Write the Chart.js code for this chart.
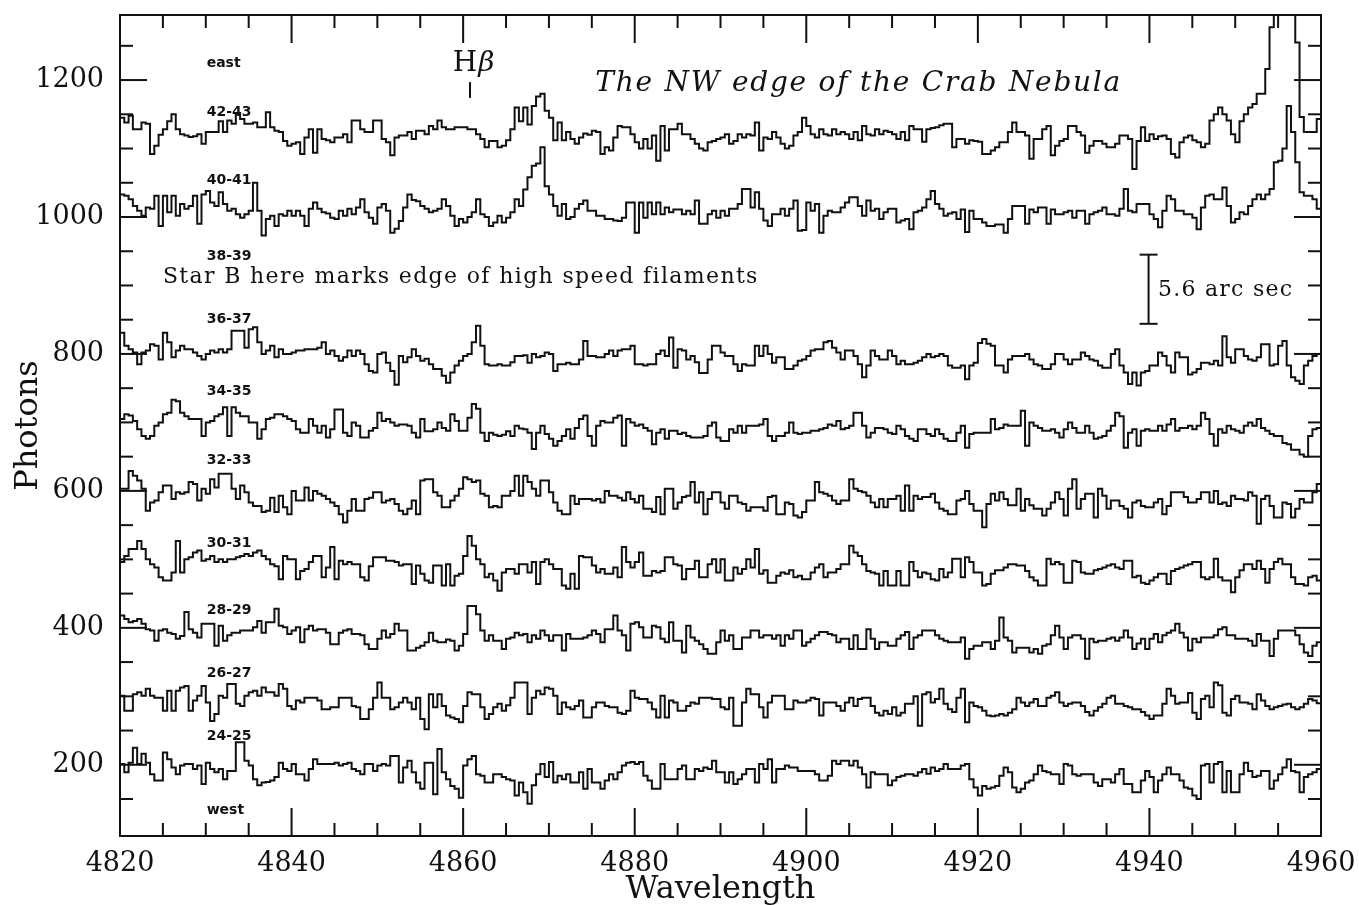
<!DOCTYPE html>
<html>
<head>
<meta charset="utf-8">
<title>The NW edge of the Crab Nebula</title>
<script src="https://cdn.jsdelivr.net/npm/chart.js@4.4.1/dist/chart.umd.min.js"></script>
<style>
  html, body { margin: 0; padding: 0; background: #fff; }
  #wrap { width: 1359px; height: 905px; }
</style>
</head>
<body>
<div id="wrap"><canvas id="crabChart"></canvas></div>
<script>
// wavelength grid of the spectra (Angstrom), one value per bin
const waveStart = 4820;
const binWidth = 0.5;

const waveTicks = [4820, 4840, 4860, 4880, 4900, 4920, 4940, 4960];
const photonTicks = [200, 400, 600, 800, 1000, 1200];

const slitNames = ['42-43', '40-41', '36-37', '34-35', '32-33', '30-31', '28-29', '26-27', '24-25'];

// photons per bin
const slit4243 = [
  1145,1138,1148,1128,1128,1138,1136,1092,1104,1120,1128,1140,1150,1128,1121,1119,1117,1118,1121,1107,
  1124,1124,1124,1140,1124,1141,1136,1150,1143,1136,1136,1138,1131,1131,1153,1131,1126,1124,1111,1104,
  1107,1109,1092,1116,1128,1094,1128,1114,1112,1109,1116,1116,1121,1109,1141,1141,1128,1124,1124,1141,
  1141,1114,1109,1090,1116,1119,1119,1124,1114,1126,1126,1121,1133,1128,1141,1131,1128,1128,1131,1131,
  1131,1128,1128,1121,1114,1102,1111,1111,1102,1104,1112,1128,1160,1140,1160,1135,1162,1176,1180,1155,
  1145,1112,1138,1112,1124,1114,1107,1116,1122,1120,1126,1124,1092,1102,1097,1116,1133,1131,1131,1121,
  1109,1100,1114,1100,1119,1082,1133,1097,1128,1128,1136,1121,1121,1114,1107,1100,1097,1109,1111,1114,
  1116,1121,1107,1111,1121,1116,1121,1119,1138,1097,1116,1114,1124,1116,1107,1100,1104,1119,1124,1145,
  1133,1121,1116,1128,1121,1119,1128,1121,1124,1121,1114,1124,1112,1133,1121,1119,1128,1121,1126,1124,
  1121,1114,1124,1112,1133,1128,1128,1110,1128,1130,1131,1134,1136,1136,1102,1114,1114,1107,1112,1111,
  1110,1092,1092,1097,1102,1109,1109,1124,1138,1124,1124,1119,1085,1114,1114,1128,1133,1090,1104,1111,
  1114,1133,1133,1124,1119,1094,1104,1111,1111,1107,1102,1102,1107,1119,1119,1114,1070,1111,1131,1111,
  1121,1114,1118,1119,1114,1092,1087,1109,1116,1119,1112,1109,1102,1107,1141,1150,1160,1150,1141,1121,
  1109,1140,1150,1160,1165,1180,1180,1216,1277,1320,1340,1340,1330,1320,1255,1146,1124,1124,1124,1143
];
const slit4041 = [
  1033,1031,1026,1016,1009,1002,1014,1012,1031,987,1031,1007,1031,1002,1019,1012,1016,1031,990,1033,
  1038,1021,1016,1036,1019,1009,1012,1004,999,1004,1009,1050,1009,973,997,1002,987,1004,1002,1009,
  1002,1009,1002,987,1012,1021,1012,1007,1005,999,997,1009,1002,1012,1004,1014,1026,1007,999,990,
  1014,1019,1009,977,983,994,1014,1033,1025,1023,1016,1012,1007,1009,1012,1026,1016,1002,987,997,
  992,1000,1007,1026,1004,1000,987,992,1002,992,999,1007,1026,1016,1040,1058,1075,1078,1102,1045,
  1033,1016,1002,1019,997,1000,1012,1019,1024,1009,1009,1002,1002,997,997,995,994,999,1021,1021,
  977,1021,999,1021,1004,1021,1004,1014,1007,1011,1011,1004,1009,1004,1024,990,990,1004,1009,999,
  1009,1002,1012,1012,1019,1041,1041,1014,1036,1012,995,987,1004,1004,1012,1002,1012,1024,980,981,
  1021,1009,1019,977,1002,1009,1007,1007,1014,1021,1029,1029,1016,1002,1024,1009,1012,997,1007,1012,
  1012,992,995,997,982,1007,1009,1014,1026,1038,1019,1012,1002,1005,1007,997,1011,978,1009,997,
  997,992,987,987,989,989,977,997,1016,1016,1016,990,1011,1007,1014,1014,990,1011,1004,1004,
  1007,1009,999,1009,1009,990,1004,1007,1009,1014,1004,1004,1002,1012,1041,1009,1007,1019,1019,1019,
  1004,997,985,1009,1031,1026,1009,1009,1004,1004,999,982,1014,1031,1033,1026,1026,1043,1016,992,
  997,1007,1004,1016,1026,1033,1026,1033,1041,1080,1082,1100,1162,1124,1080,1036,1031,1031,1026,1012
];
const slit3637 = [
  831,812,807,802,785,802,805,814,812,792,831,817,795,805,812,807,807,802,797,792,
  800,805,802,807,802,807,834,834,834,809,836,839,817,800,805,812,795,807,800,800,
  802,805,805,807,807,807,809,817,800,805,797,790,795,805,797,805,800,785,775,773,
  800,802,787,775,755,797,788,795,807,797,790,793,785,778,778,768,758,773,783,790,
  797,800,817,841,812,785,783,783,785,783,783,788,797,797,798,787,800,795,797,802,
  800,775,785,785,787,785,785,792,819,797,797,795,795,800,805,797,805,807,807,812,
  785,785,783,785,785,800,805,797,824,780,807,805,792,797,788,772,772,792,812,812,
  802,797,797,785,775,785,783,783,812,797,812,800,787,795,795,778,778,783,790,792,
  797,805,807,807,817,819,809,802,792,805,805,797,785,766,783,805,797,792,792,805,
  797,785,790,785,785,787,790,795,800,795,797,800,797,783,780,780,783,763,783,787,
  816,822,815,812,783,783,773,792,797,797,797,800,792,785,783,778,778,785,800,800,
  792,785,792,792,802,797,792,790,783,780,780,800,807,783,773,756,773,754,773,775,
  783,783,802,797,783,773,802,795,795,770,773,778,787,787,785,790,783,826,795,787,
  807,807,797,792,790,795,814,814,783,785,812,819,783,766,761,756,783,790,797,800
];
const slit3435 = [
  705,712,710,702,690,680,676,680,695,700,712,714,733,731,714,709,705,705,705,680,
  700,702,709,712,722,680,722,714,709,709,700,700,676,690,705,707,712,712,709,705,
  702,690,685,685,705,695,685,695,678,690,719,719,685,680,700,695,678,678,688,692,
  714,702,705,700,695,697,697,695,685,678,705,687,687,690,700,692,688,712,702,688,
  688,707,727,720,685,673,685,682,680,682,687,680,695,691,690,685,661,685,695,683,
  676,666,673,680,690,676,692,705,710,680,666,695,702,700,700,707,710,666,705,700,
  695,697,692,688,668,685,690,676,688,688,683,685,680,678,678,678,680,695,700,678,
  673,673,690,685,695,685,695,695,695,697,705,680,673,680,680,685,700,685,683,685,
  685,688,688,690,692,697,695,702,690,692,695,714,714,695,678,685,692,692,690,685,
  683,695,690,680,676,673,690,690,683,680,690,683,676,673,673,685,695,663,683,685,
  685,685,685,705,690,692,697,695,695,695,717,666,700,695,692,688,688,690,685,678,
  690,700,692,685,685,695,685,676,678,680,688,695,714,709,663,685,690,666,688,690,
  688,688,695,688,697,705,688,692,692,695,690,695,714,705,683,666,690,685,695,690,
  688,685,695,700,695,705,692,688,683,680,680,670,668,660,660,653,650,680,690,692
];
const slit3233 = [
  603,603,629,622,615,603,571,583,586,598,608,608,588,598,596,598,613,610,586,603,
  596,617,605,625,625,625,603,588,608,598,583,578,578,569,571,590,569,593,576,566,
  600,586,586,605,586,600,596,593,588,583,578,566,554,571,588,571,571,588,590,598,
  598,583,586,588,581,571,566,574,586,566,615,617,617,598,593,576,576,586,593,603,
  620,617,613,615,596,593,576,578,576,593,593,600,622,593,622,613,603,593,615,615,
  598,583,571,566,566,593,581,588,588,588,586,588,583,600,593,593,590,586,598,588,
  583,593,574,574,569,591,566,603,603,574,583,591,593,613,583,598,566,588,598,598,
  583,574,593,593,583,581,571,576,576,576,571,591,593,566,566,583,581,564,561,569,
  586,586,613,598,596,593,586,581,586,586,617,603,600,598,593,583,576,588,576,588,
  588,593,571,608,571,593,588,591,591,596,583,574,571,566,566,586,588,600,581,571,
  571,547,581,596,586,598,588,579,579,603,571,588,579,574,574,564,574,583,598,588,
  564,603,617,574,588,596,596,561,603,593,574,586,586,578,574,561,583,586,578,576,
  576,583,588,566,578,598,598,598,591,583,583,588,598,598,583,600,581,583,578,593,
  588,588,586,598,593,552,588,593,578,561,561,583,581,561,574,588,583,583,598,610
];
const slit3031 = [
  496,505,515,515,527,515,500,493,488,474,469,469,481,527,481,500,503,510,513,498,
  500,505,496,500,496,500,500,503,505,508,505,510,513,505,500,493,490,471,505,500,
  500,471,483,486,496,505,505,474,488,518,471,498,493,496,493,493,474,469,490,503,
  503,503,498,498,496,491,493,493,464,491,479,469,466,491,491,462,493,462,476,479,
  505,534,520,500,493,474,479,469,454,481,486,486,479,493,493,481,496,464,496,500,
  493,486,486,462,457,479,457,505,503,503,491,481,486,479,479,488,474,518,496,488,
  496,510,476,476,483,481,483,503,503,493,491,471,486,486,498,474,474,493,500,481,
  500,469,469,488,479,486,500,488,515,479,484,466,466,476,481,479,484,474,476,471,
  471,481,488,493,474,481,481,486,493,493,520,510,505,493,483,481,479,462,483,462,
  462,483,462,462,496,483,474,481,479,471,469,486,474,481,501,501,474,503,496,481,
  481,462,464,479,484,484,488,493,493,491,491,483,474,469,462,462,501,493,496,493,
  466,466,498,496,481,479,479,484,486,488,491,493,488,486,498,498,474,476,466,464,
  469,474,479,479,464,483,486,488,491,493,496,496,474,471,474,501,474,469,469,452,
  474,484,493,493,486,498,486,466,486,496,501,493,493,474,464,464,462,474,476,469
];
const slit2829 = [
  418,413,408,410,413,406,398,396,381,396,398,393,391,384,388,423,398,393,386,406,
  406,406,374,403,381,389,393,393,396,396,396,401,410,393,408,408,428,403,401,391,
  396,401,379,398,403,396,398,398,393,376,376,393,396,398,391,391,389,376,369,369,
  384,396,386,391,406,396,396,367,367,371,374,379,393,381,379,379,383,381,367,374,
  391,432,432,420,396,381,389,381,381,369,384,386,393,389,391,379,389,384,396,389,
  381,389,389,367,391,384,384,384,386,389,396,391,379,398,398,418,396,389,367,406,
  408,401,386,386,403,401,384,379,408,381,381,364,403,386,381,376,369,362,362,379,
  396,381,389,369,369,386,386,396,396,386,389,389,384,389,374,389,384,396,396,374,
  379,384,389,394,394,391,389,379,384,384,369,389,369,369,398,384,369,379,379,374,
  374,384,389,394,369,386,389,396,396,396,389,384,381,379,379,379,386,355,369,374,
  374,379,379,369,381,415,386,381,364,371,371,371,364,369,362,374,376,389,403,386,
  369,386,389,389,384,355,384,379,381,381,384,386,381,386,396,386,369,377,384,369,
  384,391,379,389,393,396,406,393,386,367,384,379,386,386,386,389,398,401,389,389,
  384,384,384,381,374,391,381,381,359,384,396,396,396,396,389,376,364,359,374,379
];
const slit2627 = [
  301,279,279,303,306,301,311,301,298,298,279,308,279,308,313,315,279,294,301,315,
  291,264,274,301,298,318,318,289,286,301,306,308,301,313,306,306,301,318,311,286,
  281,294,291,298,298,298,294,281,281,284,284,298,298,298,286,284,267,267,281,298,
  320,298,298,281,284,291,298,291,281,298,267,252,303,284,303,286,272,269,267,262,
  286,306,303,303,284,267,274,284,289,279,287,298,320,320,320,274,298,308,303,313,
  311,301,274,291,284,281,286,294,269,269,284,291,291,286,284,284,276,274,279,308,
  298,296,296,291,281,269,301,269,294,291,279,279,286,291,289,298,298,298,296,296,
  284,281,298,257,257,291,311,303,303,284,269,291,301,301,301,281,281,294,291,291,
  294,298,296,272,291,291,291,286,279,291,298,286,296,298,298,286,276,272,279,274,
  284,272,276,289,289,300,257,303,306,291,296,311,289,281,277,298,311,262,291,286,
  284,279,272,271,272,274,272,276,281,298,291,286,291,296,286,286,298,301,306,291,
  286,289,291,291,286,277,272,279,284,289,298,301,289,289,286,284,281,281,277,272,
  267,272,272,289,311,301,289,291,291,305,276,267,296,301,284,320,316,276,272,296,
  301,291,291,289,281,303,294,286,281,284,286,288,289,284,281,284,289,296,294,290
];
const slit2425 = [
  201,189,203,225,201,216,203,186,177,177,218,208,196,186,199,201,201,194,199,172,
  203,194,189,194,179,191,191,233,233,206,199,179,170,174,175,177,182,203,194,191,
  201,186,186,177,194,208,201,201,201,201,203,199,201,203,194,191,186,201,201,191,
  199,201,199,213,213,174,196,206,189,174,165,203,203,157,223,189,179,169,165,152,
  199,208,213,186,184,174,174,186,186,182,179,177,155,174,160,143,170,186,201,182,
  204,174,184,179,186,174,174,189,165,194,174,174,165,177,186,179,189,199,203,204,
  201,204,184,177,165,165,201,179,179,179,194,199,179,179,194,191,196,194,206,189,
  189,174,189,172,179,186,194,194,174,201,194,208,174,194,194,199,196,196,191,191,
  191,191,186,177,177,184,206,201,206,206,199,206,196,186,167,189,186,186,186,170,
  177,182,184,186,186,184,189,194,187,196,191,194,201,194,194,194,199,201,179,167,
  155,169,165,167,169,184,196,189,167,160,165,174,177,186,199,191,189,186,186,172,
  201,199,186,184,186,186,186,174,169,179,179,174,186,194,172,172,160,160,177,191,
  182,160,177,186,196,186,186,177,167,165,155,150,199,201,174,201,204,160,191,160,
  160,186,203,191,182,184,191,191,165,177,186,196,208,191,189,160,182,186,189,194
];

const slitValues = [slit4243, slit4041, slit3637, slit3435, slit3233, slit3031, slit2829, slit2627, slit2425];

const ink = '#111';

// histogram steps: each value holds from its bin start to the next one
function toSteps(values) {
  const pts = values.map((v, i) => ({ x: waveStart + i * binWidth, y: v }));
  pts.push({ x: waveStart + values.length * binWidth, y: values[values.length - 1] });
  return pts;
}

function tickLine(ctx, x1, y1, x2, y2) {
  ctx.beginPath();
  ctx.moveTo(x1, y1);
  ctx.lineTo(x2, y2);
  ctx.stroke();
}

// stretch a string to a given width, like the old plotter lettering
function fitText(ctx, text, px, py, width, font) {
  ctx.font = font;
  ctx.letterSpacing = '0px';
  const w = ctx.measureText(text).width;
  const sp = text.length > 1 ? (width - w) / (text.length - 1) : 0;
  ctx.letterSpacing = sp + 'px';
  ctx.fillText(text, px, py);
  ctx.letterSpacing = '0px';
}

const frameAndNotes = {
  id: 'frameAndNotes',
  afterDatasetsDraw(chart) {
    const { ctx, chartArea: a, scales: { x, y } } = chart;
    ctx.save();
    ctx.strokeStyle = ink;
    ctx.fillStyle = ink;
    ctx.lineWidth = 2;
    ctx.strokeRect(a.left, a.top, a.right - a.left, a.bottom - a.top);

    // inward ticks on all four sides
    for (let w = waveStart + 5; w < 4960; w += 5) {
      const px = x.getPixelForValue(w);
      const len = waveTicks.includes(w) ? 28 : 13;
      tickLine(ctx, px, a.bottom, px, a.bottom - len);
      tickLine(ctx, px, a.top, px, a.top + len);
    }
    for (let p = 150; p <= 1250; p += 50) {
      const py = y.getPixelForValue(p);
      const len = photonTicks.includes(p) ? 27 : 13;
      tickLine(ctx, a.left, py, a.left + len, py);
      tickLine(ctx, a.right, py, a.right - len, py);
    }

    // slit labels
    const labelWave = 4830.1;
    const stripLabels = [
      ['east', 1225], ['42-43', 1153], ['40-41', 1053], ['38-39', 942], ['36-37', 850],
      ['34-35', 745], ['32-33', 645], ['30-31', 524], ['28-29', 426], ['26-27', 334],
      ['24-25', 242], ['west', 134]
    ];
    ctx.font = 'bold 14px "DejaVu Sans"';
    ctx.textAlign = 'left';
    ctx.textBaseline = 'middle';
    stripLabels.forEach(([txt, p]) => {
      ctx.fillText(txt, x.getPixelForValue(labelWave), y.getPixelForValue(p));
    });

    ctx.textBaseline = 'alphabetic';
    // H beta marker
    const hbX = x.getPixelForValue(4858.8);
    ctx.font = '28px "DejaVu Serif"';
    ctx.fillText('H', hbX, y.getPixelForValue(1213));
    const hW = ctx.measureText('H').width;
    ctx.font = 'italic 28px "DejaVu Serif"';
    ctx.fillText('\u03B2', hbX + hW + 1, y.getPixelForValue(1213));
    const hbLine = x.getPixelForValue(4860.8);
    tickLine(ctx, hbLine, y.getPixelForValue(1197), hbLine, y.getPixelForValue(1174));

    fitText(ctx, 'The NW edge of the Crab Nebula', x.getPixelForValue(4875.4), y.getPixelForValue(1184), 525,
      'italic 28px "DejaVu Serif"');
    fitText(ctx, 'Star B here marks edge of high speed filaments', x.getPixelForValue(4825.0), y.getPixelForValue(904), 594,
      '22px "DejaVu Serif"');

    // 5.6 arc sec scale bar
    const barX = x.getPixelForValue(4939.9);
    const barTop = y.getPixelForValue(945);
    const barBot = y.getPixelForValue(844);
    tickLine(ctx, barX, barTop, barX, barBot);
    tickLine(ctx, barX - 9, barTop, barX + 9, barTop);
    tickLine(ctx, barX - 9, barBot, barX + 9, barBot);
    fitText(ctx, '5.6 arc sec', x.getPixelForValue(4941.0), y.getPixelForValue(885), 134, '22px "DejaVu Serif"');

    ctx.restore();
  }
};

new Chart('crabChart', {
  type: 'line',
  data: {
    datasets: slitValues.map((vals, k) => ({
      label: slitNames[k],
      data: toSteps(vals),
      stepped: 'before',
      borderColor: ink,
      borderWidth: 2,
      pointRadius: 0,
      fill: false
    }))
  },
  options: {
    responsive: true,
    maintainAspectRatio: false,
    animation: false,
    layout: { padding: { top: 15, right: 38, left: 0, bottom: 0 } },
    plugins: { legend: { display: false }, tooltip: { enabled: false } },
    scales: {
      x: {
        type: 'linear',
        min: 4820,
        max: 4960,
        afterBuildTicks: s => { s.ticks = waveTicks.map(v => ({ value: v })); },
        afterFit: s => { s.height = 69; s.paddingLeft = 0; s.paddingRight = 0; },
        grid: { display: false, drawTicks: false },
        border: { display: false },
        ticks: {
          autoSkip: false,
          maxRotation: 0,
          padding: 14,
          color: ink,
          callback: v => String(v),
          font: { family: 'DejaVu Serif', size: 27, lineHeight: 1 }
        },
        title: {
          display: true,
          text: 'Wavelength',
          color: ink,
          padding: { top: 0, bottom: -4 },
          font: { family: 'DejaVu Serif', size: 32, lineHeight: 1.2 }
        }
      },
      y: {
        min: 96,
        max: 1295,
        afterBuildTicks: s => { s.ticks = photonTicks.map(v => ({ value: v })); },
        afterFit: s => { s.width = 120; s.paddingTop = 0; s.paddingBottom = 0; },
        grid: { display: false, drawTicks: false },
        border: { display: false },
        ticks: {
          padding: 16,
          color: ink,
          callback: v => String(v),
          font: { family: 'DejaVu Serif', size: 27, lineHeight: 1 }
        },
        title: {
          display: true,
          text: 'Photons',
          color: ink,
          padding: { top: 9, bottom: 0 },
          font: { family: 'DejaVu Serif', size: 32, lineHeight: 1.2 }
        }
      }
    }
  },
  plugins: [frameAndNotes]
});
</script>
</body>
</html>
